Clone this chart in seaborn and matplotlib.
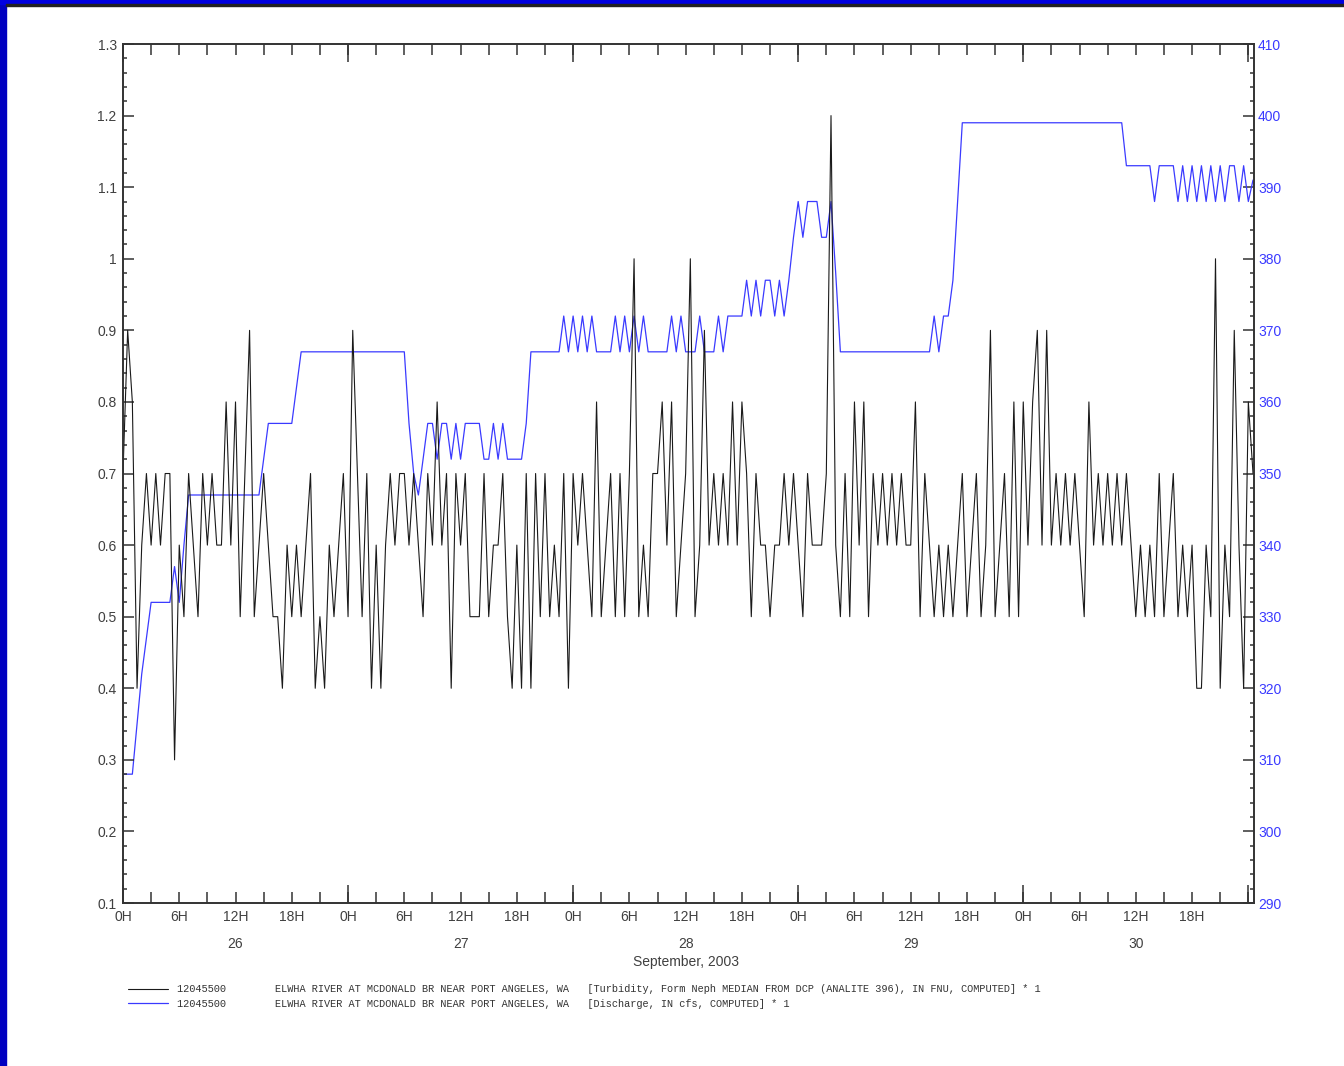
import numpy as np
import pandas as pd
import matplotlib
matplotlib.use('Agg')
import matplotlib.pyplot as plt
import seaborn as sns
from matplotlib.ticker import MultipleLocator, FuncFormatter
from matplotlib.patches import Rectangle
from matplotlib.font_manager import FontProperties

# Half-hourly readings, starting 26 Sep 2003 00:00 (hours since start)
hours = np.arange(0, 121, 0.5)

# Turbidity, FNU (left axis)
turbidity = [
    0.7, 0.9, 0.8, 0.4, 0.6, 0.7, 0.6, 0.7, 0.6, 0.7, 0.7, 0.3,
    0.6, 0.5, 0.7, 0.6, 0.5, 0.7, 0.6, 0.7, 0.6, 0.6, 0.8, 0.6,
    0.8, 0.5, 0.7, 0.9, 0.5, 0.6, 0.7, 0.6, 0.5, 0.5, 0.4, 0.6,
    0.5, 0.6, 0.5, 0.6, 0.7, 0.4, 0.5, 0.4, 0.6, 0.5, 0.6, 0.7,
    0.5, 0.9, 0.7, 0.5, 0.7, 0.4, 0.6, 0.4, 0.6, 0.7, 0.6, 0.7,
    0.7, 0.6, 0.7, 0.6, 0.5, 0.7, 0.6, 0.8, 0.6, 0.7, 0.4, 0.7,
    0.6, 0.7, 0.5, 0.5, 0.5, 0.7, 0.5, 0.6, 0.6, 0.7, 0.5, 0.4,
    0.6, 0.4, 0.7, 0.4, 0.7, 0.5, 0.7, 0.5, 0.6, 0.5, 0.7, 0.4,
    0.7, 0.6, 0.7, 0.6, 0.5, 0.8, 0.5, 0.6, 0.7, 0.5, 0.7, 0.5,
    0.7, 1.0, 0.5, 0.6, 0.5, 0.7, 0.7, 0.8, 0.6, 0.8, 0.5, 0.6,
    0.7, 1.0, 0.5, 0.6, 0.9, 0.6, 0.7, 0.6, 0.7, 0.6, 0.8, 0.6,
    0.8, 0.7, 0.5, 0.7, 0.6, 0.6, 0.5, 0.6, 0.6, 0.7, 0.6, 0.7,
    0.6, 0.5, 0.7, 0.6, 0.6, 0.6, 0.7, 1.2, 0.6, 0.5, 0.7, 0.5,
    0.8, 0.6, 0.8, 0.5, 0.7, 0.6, 0.7, 0.6, 0.7, 0.6, 0.7, 0.6,
    0.6, 0.8, 0.5, 0.7, 0.6, 0.5, 0.6, 0.5, 0.6, 0.5, 0.6, 0.7,
    0.5, 0.6, 0.7, 0.5, 0.6, 0.9, 0.5, 0.6, 0.7, 0.5, 0.8, 0.5,
    0.8, 0.6, 0.8, 0.9, 0.6, 0.9, 0.6, 0.7, 0.6, 0.7, 0.6, 0.7,
    0.6, 0.5, 0.8, 0.6, 0.7, 0.6, 0.7, 0.6, 0.7, 0.6, 0.7, 0.6,
    0.5, 0.6, 0.5, 0.6, 0.5, 0.7, 0.5, 0.6, 0.7, 0.5, 0.6, 0.5,
    0.6, 0.4, 0.4, 0.6, 0.5, 1.0, 0.4, 0.6, 0.5, 0.9, 0.6, 0.4,
    0.8, 0.7,
]

# Discharge, cfs (right axis)
discharge = [
    308, 308, 308, 315, 322, 327, 332, 332, 332, 332, 332, 337,
    332, 340, 347, 347, 347, 347, 347, 347, 347, 347, 347, 347,
    347, 347, 347, 347, 347, 347, 352, 357, 357, 357, 357, 357,
    357, 362, 367, 367, 367, 367, 367, 367, 367, 367, 367, 367,
    367, 367, 367, 367, 367, 367, 367, 367, 367, 367, 367, 367,
    367, 357, 350, 347, 352, 357, 357, 352, 357, 357, 352, 357,
    352, 357, 357, 357, 357, 352, 352, 357, 352, 357, 352, 352,
    352, 352, 357, 367, 367, 367, 367, 367, 367, 367, 372, 367,
    372, 367, 372, 367, 372, 367, 367, 367, 367, 372, 367, 372,
    367, 372, 367, 372, 367, 367, 367, 367, 367, 372, 367, 372,
    367, 367, 367, 372, 367, 367, 367, 372, 367, 372, 372, 372,
    372, 377, 372, 377, 372, 377, 377, 372, 377, 372, 377, 383,
    388, 383, 388, 388, 388, 383, 383, 388, 378, 367, 367, 367,
    367, 367, 367, 367, 367, 367, 367, 367, 367, 367, 367, 367,
    367, 367, 367, 367, 367, 372, 367, 372, 372, 377, 388, 399,
    399, 399, 399, 399, 399, 399, 399, 399, 399, 399, 399, 399,
    399, 399, 399, 399, 399, 399, 399, 399, 399, 399, 399, 399,
    399, 399, 399, 399, 399, 399, 399, 399, 399, 399, 393, 393,
    393, 393, 393, 393, 388, 393, 393, 393, 393, 388, 393, 388,
    393, 388, 393, 388, 393, 388, 393, 388, 393, 393, 388, 393,
    388, 391,
]

days = ['26', '27', '28', '29', '30']
month_label = 'September, 2003'
station = '12045500'
site = 'ELWHA RIVER AT MCDONALD BR NEAR PORT ANGELES, WA'
param_turb = '[Turbidity, Form Neph MEDIAN FROM DCP (ANALITE 396), IN FNU, COMPUTED] * 1'
param_q = '[Discharge, IN cfs, COMPUTED] * 1'

df = pd.DataFrame({'hours': hours, 'turbidity': turbidity, 'discharge': discharge})

sns.set_style('ticks')
plt.rcParams['font.family'] = ['Liberation Sans', 'DejaVu Sans']

text_gray = '#404040'
blue = '#3a3aff'

fig = plt.figure(figsize=(13.44, 10.66), dpi=100)
fig.patch.set_facecolor('white')
ax = fig.add_axes([0.0915, 0.1529, 0.8415, 0.8058])
ax2 = ax.twinx()

sns.lineplot(data=df, x='hours', y='turbidity', ax=ax, color='#1a1a1a',
             linewidth=0.8, errorbar=None)
sns.lineplot(data=df, x='hours', y='discharge', ax=ax2, color=blue,
             linewidth=0.9, errorbar=None)

# black series drawn over the blue one
ax.set_zorder(ax2.get_zorder() + 1)
ax.patch.set_visible(False)

ax.set_xlim(0, 120.6)
ax.set_ylim(0.1, 1.3)
ax2.set_ylim(290, 410)
ax.set_xlabel('')
ax.set_ylabel('')
ax2.set_ylabel('')


def hour_label(h, pos):
    if h > 119:
        return ''
    return f'{int(round(h)) % 24}H'


# x axis: 3h ticks, labels every 6h, long ticks at midnight
ax.xaxis.set_major_locator(MultipleLocator(6))
ax.xaxis.set_minor_locator(MultipleLocator(3))
ax.xaxis.set_major_formatter(FuncFormatter(hour_label))
ax.tick_params(axis='x', which='both', direction='in', length=7.9, width=1.1,
               color='#333333', top=True, labelsize=10, labelcolor=text_gray, pad=5)
for side in ('bottom', 'top'):
    sec = ax.secondary_xaxis(side)
    sec.set_xticks(np.arange(0, 121, 24))
    sec.tick_params(direction='in', length=13, width=1.1, color='#333333',
                    labelbottom=False, labeltop=False)
    for sp in sec.spines.values():
        sp.set_visible(False)

# left axis
ax.yaxis.set_major_locator(MultipleLocator(0.1))
ax.yaxis.set_minor_locator(MultipleLocator(0.02))
ax.yaxis.set_major_formatter(FuncFormatter(lambda v, pos: f'{v:g}'))
ax.tick_params(axis='y', which='major', direction='in', length=7.9, width=1.1,
               color='#333333', right=False, labelsize=10, labelcolor=text_gray, pad=4.5)
ax.tick_params(axis='y', which='minor', direction='in', length=3.2, width=1.1,
               color='#333333', right=False)

# right axis
ax2.yaxis.set_major_locator(MultipleLocator(10))
ax2.yaxis.set_minor_locator(MultipleLocator(2))
ax2.tick_params(axis='y', which='major', direction='in', length=7.9, width=1.1,
                color='#333333', labelsize=10, labelcolor=blue, pad=3)
ax2.tick_params(axis='y', which='minor', direction='in', length=3.2, width=1.1,
                color='#333333')

for a in (ax, ax2):
    for sp in a.spines.values():
        sp.set_color('#333333')
        sp.set_linewidth(1.2)

# day labels and month under the hour ticks
for k, d in enumerate(days):
    ax.text(12 + 24 * k, -0.0477, d, transform=ax.get_xaxis_transform(),
            ha='center', va='center', fontsize=10, color=text_gray)
ax.text(60, -0.0687, month_label, transform=ax.get_xaxis_transform(),
        ha='center', va='center', fontsize=10, color=text_gray)

# station legend at the bottom
lab_turb = f'{station}        {site}   {param_turb}'
lab_q = f'{station}        {site}   {param_q}'
fig.legend(handles=[ax.get_lines()[0], ax2.get_lines()[0]], labels=[lab_turb, lab_q],
           loc='upper left', bbox_to_anchor=(0.0952, 0.0765), bbox_transform=fig.transFigure,
           frameon=False, prop=FontProperties(family='Liberation Mono', size=7.4),
           labelcolor='#333333', handlelength=3.9, handletextpad=0.85,
           labelspacing=0.42, borderpad=0, borderaxespad=0)

# slide frame: blue strip on the left and top
fig.patches.append(Rectangle((0, 0), 0.0046, 1, transform=fig.transFigure,
                             color='#0000c0', zorder=0))
fig.patches.append(Rectangle((0, 1 - 0.0038), 1, 0.0038, transform=fig.transFigure,
                             color='#0000e0', zorder=0))
fig.patches.append(Rectangle((0.0046, 1 - 0.0058), 1, 0.002, transform=fig.transFigure,
                             color='#222222', zorder=0))

fig.savefig('out.png', dpi=100)
